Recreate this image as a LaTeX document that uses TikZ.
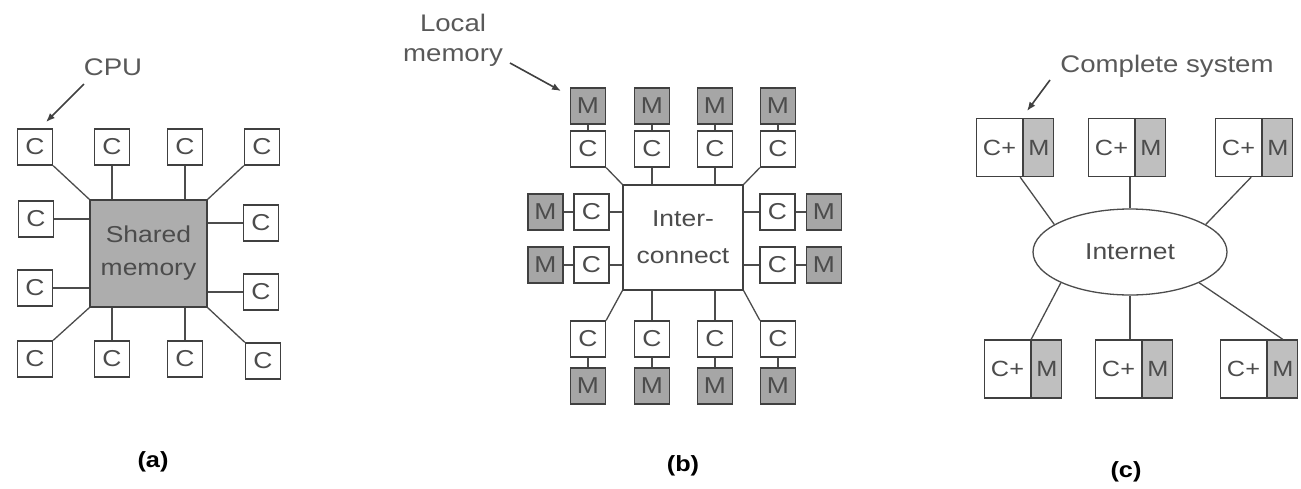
\documentclass[tikz,border=0pt]{standalone}
\usepackage{fontspec}
\setmainfont{Liberation Sans}
\usetikzlibrary{shapes.geometric,calc,arrows.meta}
\newcommand\sx[1]{\scalebox{1.15}[1]{#1}}
\begin{document}
\begin{tikzpicture}[x=1pt,y=-1pt,
  cbox/.style={draw=black!75,line width=1.3pt,minimum width=35pt,minimum height=36pt,inner sep=0pt,
    font=\fontsize{23}{26}\selectfont,text=black!70},
  mbox/.style={cbox,fill=black!35},
  cmc/.style={draw=black!75,line width=1.3pt,minimum width=46pt,minimum height=58pt,inner sep=0pt,
    font=\fontsize{22}{26}\selectfont,text=black!70},
  cmm/.style={cmc,minimum width=30pt,fill=black!25},
  lbl/.style={font=\fontsize{24}{30}\selectfont,text=black!65,inner sep=1pt,align=center},
  captxt/.style={font=\fontsize{22}{26}\selectfont\bfseries,text=black},
  ln/.style={draw=black!70,line width=1.3pt},
  arr/.style={draw=black!75,line width=1.6pt,-{Latex[length=9pt,width=7pt]}}]
\fill[white] (0,0) rectangle (1301,488);
\useasboundingbox (0,0) rectangle (1301,488);

% ---------------- (a) ----------------
\node[draw=black!75,line width=1.3pt,fill=black!32,minimum width=117pt,minimum height=107pt,inner sep=0pt,
  font=\fontsize{23}{33}\selectfont,text=black!70,align=center] (mem) at (148.5,253.5)
  {\sx{Shared}\\\sx{memory}};
\node[cbox] (a1) at (35,147) {\sx{C}};
\node[cbox] (a2) at (112,147) {\sx{C}};
\node[cbox] (a3) at (185,147) {\sx{C}};
\node[cbox] (a4) at (262,147) {\sx{C}};
\node[cbox] (a5) at (36,219) {\sx{C}};
\node[cbox] (a6) at (35,288) {\sx{C}};
\node[cbox] (a7) at (261,223) {\sx{C}};
\node[cbox] (a8) at (261,292) {\sx{C}};
\node[cbox] (a9) at (35,359) {\sx{C}};
\node[cbox] (a10) at (112,359) {\sx{C}};
\node[cbox] (a11) at (185,359) {\sx{C}};
\node[cbox] (a12) at (263,361) {\sx{C}};
\draw[ln] (a1.south east) -- (mem.north west);
\draw[ln] (a2.south) -- (a2.south |- mem.north);
\draw[ln] (a3.south) -- (a3.south |- mem.north);
\draw[ln] (a4.south west) -- (mem.north east);
\draw[ln] (a5.east) -- (a5.east -| mem.west);
\draw[ln] (a6.east) -- (a6.east -| mem.west);
\draw[ln] (a7.west) -- (a7.west -| mem.east);
\draw[ln] (a8.west) -- (a8.west -| mem.east);
\draw[ln] (a9.north east) -- (mem.south west);
\draw[ln] (a10.north) -- (a10.north |- mem.south);
\draw[ln] (a11.north) -- (a11.north |- mem.south);
\draw[ln] (a12.north west) -- (mem.south east);
\node[lbl] (cpu) at (113,67) {\sx{CPU}};
\coordinate (cpuS) at (84,84);
\coordinate (cpuT) at (46,122);
\draw[arr] (cpuS) -- (cpuT);
\node[captxt] (capa) at (153,462) {\sx{(a)}};

% ---------------- (b) ----------------
\node[draw=black!75,line width=1.3pt,minimum width=120pt,minimum height=105pt,inner sep=0pt,
  font=\fontsize{23}{37}\selectfont,text=black!70,align=center] (ic) at (683,237.5)
  {\sx{Inter-}\\\sx{connect}};
\foreach \i/\x in {1/588,2/652,3/715,4/778}{
  \node[mbox] (mt\i) at (\x,106) {\sx{M}};
  \node[cbox] (ct\i) at (\x,149) {\sx{C}};
  \draw[ln] (mt\i.south) -- (ct\i.north);
  \node[cbox] (cb\i) at (\x,339) {\sx{C}};
  \node[mbox] (mb\i) at (\x,386) {\sx{M}};
  \draw[ln] (cb\i.south) -- (mb\i.north);
}
\foreach \i/\y in {1/212,2/265}{
  \node[mbox] (ml\i) at (545.5,\y) {\sx{M}};
  \node[cbox] (cl\i) at (591.5,\y) {\sx{C}};
  \draw[ln] (ml\i.east) -- (cl\i.west);
  \draw[ln] (cl\i.east) -- (cl\i.east -| ic.west);
  \node[cbox] (cr\i) at (777.5,\y) {\sx{C}};
  \node[mbox] (mr\i) at (824,\y) {\sx{M}};
  \draw[ln] (cr\i.east) -- (mr\i.west);
  \draw[ln] (cr\i.west -| ic.east) -- (cr\i.west);
}
\draw[ln] (ct1.south east) -- (ic.north west);
\draw[ln] (ct2.south) -- (ct2.south |- ic.north);
\draw[ln] (ct3.south) -- (ct3.south |- ic.north);
\draw[ln] (ct4.south west) -- (ic.north east);
\draw[ln] (ic.south west) -- (cb1.north east);
\draw[ln] (cb2.north |- ic.south) -- (cb2.north);
\draw[ln] (cb3.north |- ic.south) -- (cb3.north);
\draw[ln] (ic.south east) -- (cb4.north west);
\node[lbl] (lm) at (453,40) {\sx{Local}\\\sx{memory}};
\coordinate (lmS) at (510,63);
\coordinate (lmT) at (561,91);
\draw[arr] (lmS) -- (lmT);
\node[captxt] (capb) at (683,466) {\sx{(b)}};

% ---------------- (c) ----------------
\node[ellipse,draw=black!70,line width=1.3pt,minimum width=194pt,minimum height=86pt,inner sep=0pt,
  font=\fontsize{23}{26}\selectfont,text=black!70] (inet) at (1130,252) {\sx{Internet}};
\node[cmc] (t1c) at (999.5,147.5) {\sx{C+}};
\node[cmm,anchor=west] (t1m) at (t1c.east) {\sx{M}};
\node[cmc] (t2c) at (1111.5,147.5) {\sx{C+}};
\node[cmm,anchor=west] (t2m) at (t2c.east) {\sx{M}};
\node[cmc] (t3c) at (1238.5,147.5) {\sx{C+}};
\node[cmm,anchor=west] (t3m) at (t3c.east) {\sx{M}};
\node[cmc] (b1c) at (1007.5,369) {\sx{C+}};
\node[cmm,anchor=west] (b1m) at (b1c.east) {\sx{M}};
\node[cmc] (b2c) at (1118.5,369) {\sx{C+}};
\node[cmm,anchor=west] (b2m) at (b2c.east) {\sx{M}};
\node[cmc] (b3c) at (1243.5,369) {\sx{C+}};
\node[cmm,anchor=west] (b3m) at (b3c.east) {\sx{M}};
\draw[ln] ($(t1c.south east)+(-3,0)$) -- (inet.160);
\draw[ln] (inet.north) -- (inet.north |- t2c.south);
\draw[ln] ($(t3c.south east)+(-11,0)$) -- (inet.20);
\draw[ln] (inet.204) -- (b1c.north east);
\draw[ln] (inet.south) -- (inet.south |- b2c.north);
\draw[ln] (inet.336) -- (b3m.north);
\node[lbl] (cs) at (1167,66) {\sx{Complete system}};
\coordinate (csS) at (1050,80);
\coordinate (csT) at (1027,111);
\draw[arr] (csS) -- (csT);
\node[captxt] (capc) at (1126,472) {\sx{(c)}};
\end{tikzpicture}
\end{document}
